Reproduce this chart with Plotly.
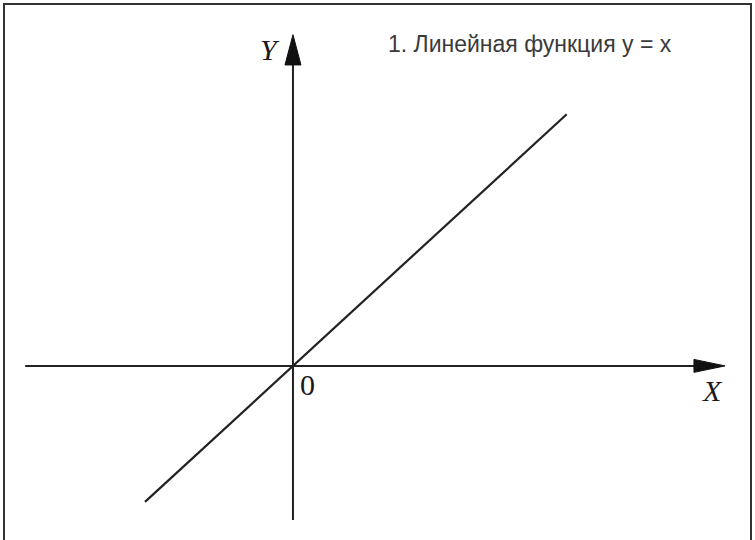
import plotly.graph_objects as go

# Data: linear function y = x
x_vals = [-4.0, 7.4]
y_vals = [v for v in x_vals]

title_text = "1. Линейная функция y = x"

# axis extents (data units)
x_axis_ext = [-7.24, 11.0]
y_axis_ext = [-4.53, 9.2]

W, H = 755, 540
X_RANGE = [-7.92, 12.49]
Y_RANGE = [-5.12, 10.76]

fig = go.Figure()

# X axis line
fig.add_trace(go.Scatter(x=x_axis_ext, y=[0, 0], mode="lines",
                         line=dict(color="#222222", width=2), hoverinfo="skip"))
# Y axis line
fig.add_trace(go.Scatter(x=[0, 0], y=y_axis_ext, mode="lines",
                         line=dict(color="#222222", width=2), hoverinfo="skip"))
# function line
fig.add_trace(go.Scatter(x=x_vals, y=y_vals, mode="lines",
                         line=dict(color="#222222", width=2.2)))

# arrowheads
fig.add_shape(type="path", xref="x", yref="y",
              path="M 10.84 -0.19 L 11.68 0 L 10.84 0.19 Z",
              fillcolor="#111111", line=dict(color="#111111", width=1))
fig.add_shape(type="path", xref="x", yref="y",
              path="M -0.216 8.85 L 0 9.74 L 0.216 8.85 Z",
              fillcolor="#111111", line=dict(color="#111111", width=1))

# border (top, left, right; runs past the bottom edge)
fig.add_shape(type="rect", xref="paper", yref="paper",
              x0=4 / W, x1=751 / W, y0=1 - 560 / H, y1=1 - 4 / H,
              line=dict(color="#333333", width=2), fillcolor="rgba(0,0,0,0)")

def px(xp, yp):
    return xp / W, 1 - yp / H

serif = "Liberation Serif, Times New Roman, serif"
for txt, (xp, yp), italic in [("Y", (270, 49), True), ("X", (712, 390), True), ("0", (307, 385), False)]:
    ax, ay = px(xp, yp)
    label = f"<i>{txt}</i>" if italic else txt
    fig.add_annotation(x=ax, y=ay, xref="paper", yref="paper", text=label,
                       showarrow=False, xanchor="center", yanchor="middle",
                       font=dict(family=serif, size=30, color="#1a1a1a"))

ax, ay = px(386, 44)
fig.add_annotation(x=ax, y=ay, xref="paper", yref="paper", text=title_text,
                   showarrow=False, xanchor="left", yanchor="middle",
                   font=dict(family="Liberation Sans, Arial, sans-serif", size=23, color="#3a3a3a"))

fig.update_layout(width=W, height=H, margin=dict(l=0, r=0, t=0, b=0),
                  paper_bgcolor="white", plot_bgcolor="white", showlegend=False,
                  xaxis=dict(range=X_RANGE, visible=False, fixedrange=True),
                  yaxis=dict(range=Y_RANGE, visible=False, fixedrange=True))

fig.write_html("out.html", config={"displayModeBar": False},
               post_script="document.body.style.margin='0';document.body.style.overflow='hidden';")
